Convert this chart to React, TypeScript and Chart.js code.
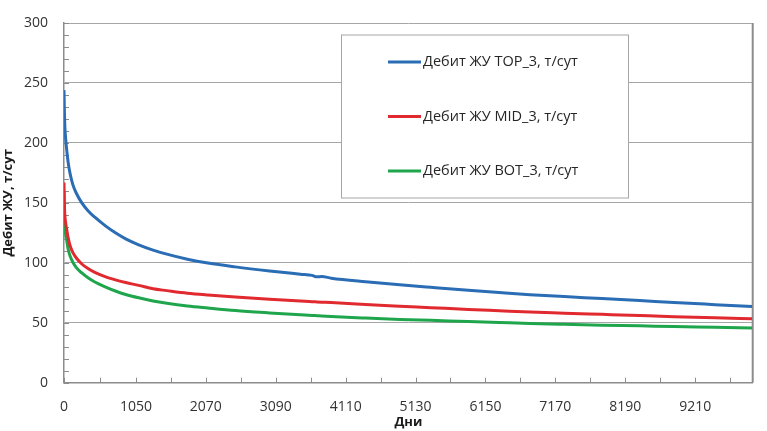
import { useEffect, useRef } from 'react';
import { Chart, registerables } from 'chart.js';
import type { Plugin } from 'chart.js';

Chart.register(...registerables);

// Дни (общие для всех серий)
const days = [
  0, 5, 12, 25, 40, 60, 90, 130, 180, 260, 350, 450, 600, 750, 900, 1090, 1300, 1500, 1800,
  2100, 2500, 3000, 3450, 3620, 3690, 3760, 3900, 4400, 4900, 5350, 5900, 6350, 6800, 7300,
  7850, 8400, 8900, 9500, 10040,
];

const topRate = [
  244, 228, 214, 203, 194, 184, 174, 165, 158, 150, 143.5, 138, 131, 125, 120, 115, 110.6,
  107.2, 103, 99.8, 96.6, 93.2, 90.5, 89.5, 88.3, 88.6, 87.2, 84.2, 81.7, 79.6, 77.1, 75.2,
  73.4, 71.8, 70.2, 68.5, 66.9, 65.1, 63.5,
];

const midRate = [
  167, 150, 140, 133, 127.5, 121, 114, 108.5, 104, 99, 95.2, 92, 88.5, 85.8, 83.5, 81.2, 78.3,
  76.8, 74.7, 73.2, 71.5, 69.6, 68.1, 67.6, 67.4, 67.2, 66.8, 65.2, 63.8, 62.6, 61.1, 60,
  58.9, 58, 57, 56, 55.1, 54.1, 53.3,
];

const botRate = [
  159, 140, 130, 123, 118.5, 111.5, 105.5, 100.5, 96, 91.5, 87.5, 84, 80, 76.5, 73.6, 70.8,
  68.2, 66.3, 64, 62.3, 60.2, 58.2, 56.6, 56.1, 55.9, 55.7, 55.2, 53.9, 52.8, 52, 51, 50.2,
  49.4, 48.7, 48, 47.4, 46.8, 46.2, 45.6,
];

const xTickLabels = [0, 1050, 2070, 3090, 4110, 5130, 6150, 7170, 8190, 9210];

const seriesNames = [
  'Дебит ЖУ TOP_3, т/сут',
  'Дебит ЖУ MID_3, т/сут',
  'Дебит ЖУ BOT_3, т/сут',
];

const seriesColors = ['#2a6db5', '#e12a2f', '#1fa64c'];

const AXIS_COLOR = '#8c8c8c';

// внутренние засечки осей и правая рамка
const innerTicks: Plugin<'line'> = {
  id: 'innerTicks',
  beforeDatasetsDraw(chart) {
    const { ctx, chartArea, scales } = chart;
    const x = scales.x;
    const y = scales.y;
    ctx.save();
    ctx.strokeStyle = AXIS_COLOR;
    ctx.lineWidth = 1;
    ctx.beginPath();
    const xs: number[] = [];
    for (let i = 0; i < xTickLabels.length; i++) {
      xs.push(xTickLabels[i]);
      const next = i + 1 < xTickLabels.length ? xTickLabels[i + 1] : xTickLabels[i] + 1020;
      xs.push((xTickLabels[i] + next) / 2);
    }
    xs.forEach((v) => {
      const px = Math.round(x.getPixelForValue(v)) + 0.5;
      if (px > chartArea.right) return;
      ctx.moveTo(px, chartArea.bottom);
      ctx.lineTo(px, chartArea.bottom - 5);
    });
    for (let v = 0; v <= 300; v += 10) {
      const py = Math.round(y.getPixelForValue(v)) + 0.5;
      ctx.moveTo(chartArea.left, py);
      ctx.lineTo(chartArea.left + 5, py);
    }
    ctx.stroke();
    ctx.lineWidth = 2;
    ctx.beginPath();
    ctx.moveTo(chartArea.right, chartArea.top);
    ctx.lineTo(chartArea.right, chartArea.bottom);
    ctx.stroke();
    ctx.restore();
  },
};

// легенда в рамке внутри области построения
const boxLegend: Plugin<'line'> = {
  id: 'boxLegend',
  afterDatasetsDraw(chart) {
    const { ctx } = chart;
    const left = 341;
    const top = 34.5;
    const w = 287;
    const h = 163;
    ctx.save();
    ctx.fillStyle = '#ffffff';
    ctx.fillRect(left, top, w, h);
    ctx.strokeStyle = '#a6a6a6';
    ctx.lineWidth = 1;
    ctx.strokeRect(left + 0.5, top + 0.5, w, h);
    ctx.font = '14.5px "Open Sans"';
    ctx.textBaseline = 'middle';
    ctx.fillStyle = '#262626';
    chart.data.datasets.forEach((ds, i) => {
      const cy = 62 + i * 54.5;
      ctx.strokeStyle = ds.borderColor as string;
      ctx.lineWidth = 3;
      ctx.beginPath();
      ctx.moveTo(388, cy);
      ctx.lineTo(421, cy);
      ctx.stroke();
      ctx.fillText(ds.label || '', 423, cy);
    });
    ctx.restore();
  },
};

export default function App() {
  const canvasRef = useRef<HTMLCanvasElement>(null);
  const chartRef = useRef<Chart | null>(null);

  useEffect(() => {
    document.body.style.margin = '0';
    if (!canvasRef.current) return;
    if (chartRef.current) chartRef.current.destroy();

    const ctx = canvasRef.current.getContext('2d');
    if (!ctx) return;

    Chart.defaults.font.family = '"Open Sans", sans-serif';

    const rates = [topRate, midRate, botRate];

    chartRef.current = new Chart(ctx, {
      type: 'line',
      data: {
        datasets: rates.map((r, i) => ({
          label: seriesNames[i],
          data: days.map((d, j) => ({ x: d, y: r[j] })),
          borderColor: seriesColors[i],
          backgroundColor: seriesColors[i],
          borderWidth: 3,
          pointRadius: 0,
          cubicInterpolationMode: 'monotone' as const,
          fill: false,
        })),
      },
      options: {
        animation: false,
        responsive: true,
        maintainAspectRatio: false,
        layout: { padding: { top: 7.5, right: 14.3, left: 0, bottom: 0 } },
        plugins: {
          legend: { display: false },
          tooltip: { enabled: false },
        },
        scales: {
          x: {
            type: 'linear',
            min: 0,
            max: 10050,
            afterBuildTicks: (scale) => {
              scale.ticks = xTickLabels.map((v) => ({ value: v }));
            },
            afterFit: (scale) => {
              scale.height = 48.3;
            },
            grid: { color: 'transparent', drawTicks: false },
            border: { display: true, color: AXIS_COLOR, width: 1.5 },
            ticks: {
              autoSkip: false,
              maxRotation: 0,
              padding: 17,
              color: '#333333',
              font: { size: 14, lineHeight: 1 },
              callback: (v) => String(v),
            },
            title: {
              display: true,
              text: 'Дни',
              color: '#1a1a1a',
              font: { size: 13, weight: 'bold' },
              padding: { top: 0, bottom: 1 },
            },
          },
          y: {
            min: 0,
            max: 300,
            afterFit: (scale) => {
              scale.width = 64;
            },
            grid: { color: '#a6a6a6', lineWidth: 1, drawTicks: false },
            border: { display: true, color: AXIS_COLOR, width: 1.5 },
            ticks: {
              stepSize: 50,
              padding: 16,
              color: '#333333',
              font: { size: 14, lineHeight: 1 },
            },
            title: {
              display: true,
              text: 'Дебит ЖУ, т/сут',
              color: '#1a1a1a',
              font: { size: 13, weight: 'bold' },
              padding: { top: 0, bottom: 0 },
            },
          },
        },
      },
      plugins: [innerTicks, boxLegend],
    });

    return () => {
      if (chartRef.current) {
        chartRef.current.destroy();
        chartRef.current = null;
      }
    };
  }, []);

  return (
    <div style={{ width: '767px', height: '431px', position: 'relative' }}>
      <canvas ref={canvasRef} />
    </div>
  );
}
